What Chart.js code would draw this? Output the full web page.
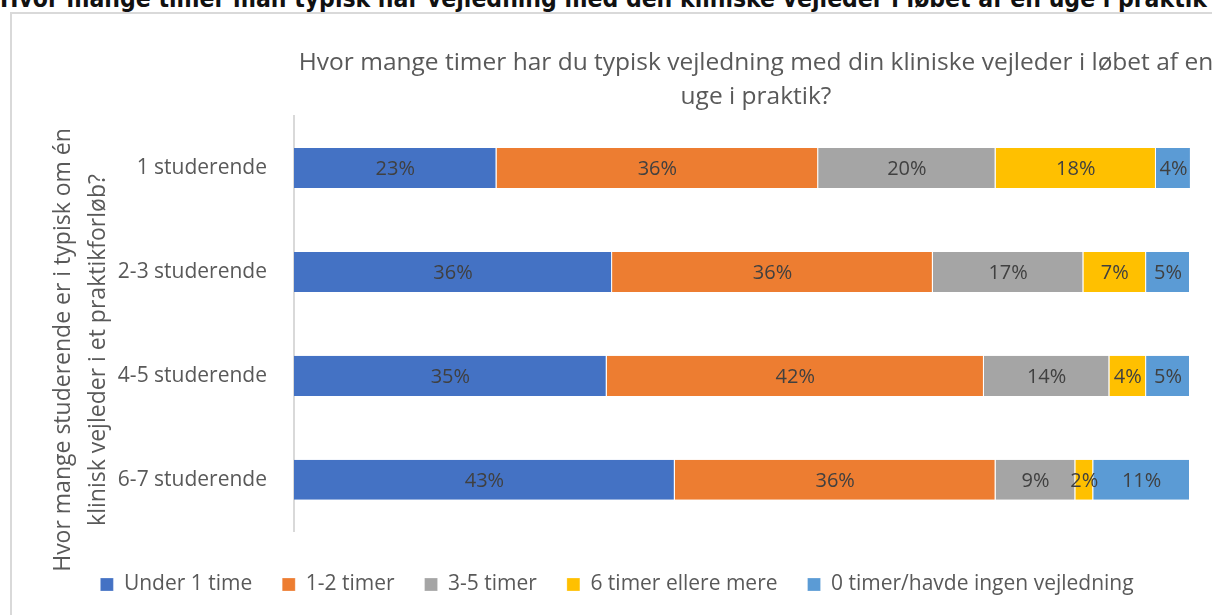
<!DOCTYPE html>
<html><head><meta charset="utf-8">
<script src="https://cdn.jsdelivr.net/npm/chart.js@4.4.1/dist/chart.umd.min.js"></script>
<style>
html,body{margin:0;padding:0;background:#fff;overflow:hidden;width:1212px;height:615px;}
#top{position:absolute;left:0px;top:-16px;font:900 24.5px 'Liberation Sans Narrow','DejaVu Sans Condensed',sans-serif;color:#111;white-space:nowrap;letter-spacing:0px;}
#frame{position:absolute;left:10px;top:12px;width:1300px;height:700px;border:2px solid #d9d9d9;box-sizing:border-box;}
#wrap{position:absolute;left:0;top:0;width:1212px;height:615px;}
</style></head><body>
<div id="top">Hvor mange timer man typisk har vejledning med den kliniske vejleder i løbet af en uge i praktik</div>
<div id="frame"></div>
<div id="wrap"><canvas id="c" width="1212" height="615"></canvas></div>
<script>
const categories = ["1 studerende", "2-3 studerende", "4-5 studerende", "6-7 studerende"];
const seriesNames = ["Under 1 time", "1-2 timer", "3-5 timer", "6 timer ellere mere", "0 timer/havde ingen vejledning"];
const under1 = [22.6, 35.5, 34.9, 42.5];
const t1to2 = [35.9, 35.8, 42.1, 35.8];
const t3to5 = [19.8, 16.8, 14.0, 8.9];
const t6plus = [17.9, 7.0, 4.1, 2.0];
const t0 = [3.9, 4.9, 4.9, 10.8];
const labelsUnder1 = ["23%", "36%", "35%", "43%"];
const labels1to2 = ["36%", "36%", "42%", "36%"];
const labels3to5 = ["20%", "17%", "14%", "9%"];
const labels6plus = ["18%", "7%", "4%", "2%"];
const labels0 = ["4%", "5%", "5%", "11%"];
const chartTitle = ["Hvor mange timer har du typisk vejledning med din kliniske vejleder i løbet af en", "uge i praktik?"];
const axisTitle = ["Hvor mange studerende er i typisk om én", "klinisk vejleder i et praktikforløb?"];
const colors = ["#4472C4", "#ED7D31", "#A5A5A5", "#FFC000", "#5B9BD5"];

const FONT = "'Open Sans', sans-serif";
const seriesData = [under1, t1to2, t3to5, t6plus, t0];
const seriesLabels = [labelsUnder1, labels1to2, labels3to5, labels6plus, labels0];

const customDraw = {
  id: 'customDraw',
  afterDatasetsDraw(chart) {
    const ctx = chart.ctx;
    ctx.save();
    ctx.fillStyle = '#404040';
    ctx.font = "20px " + FONT;
    ctx.textAlign = 'center';
    ctx.textBaseline = 'middle';
    chart.data.datasets.forEach((ds, i) => {
      const meta = chart.getDatasetMeta(i);
      meta.data.forEach((bar, j) => {
        const cx = (bar.x + bar.base) / 2;
        ctx.fillText(seriesLabels[i][j], cx, bar.y + 1);
      });
    });
    ctx.restore();
  },
  afterDraw(chart) {
    const ctx = chart.ctx;
    ctx.save();
    ctx.fillStyle = '#595959';
    ctx.font = "24.5px " + FONT;
    ctx.textAlign = 'center';
    ctx.textBaseline = 'middle';
    ctx.fillText(chartTitle[0], 756, 63);
    ctx.fillText(chartTitle[1], 756, 97);
    ctx.font = "23px " + FONT;
    ctx.translate(0, 350);
    ctx.rotate(-Math.PI / 2);
    ctx.fillText(axisTitle[0], 0, 63);
    ctx.fillText(axisTitle[1], 0, 98);
    ctx.restore();
  }
};

new Chart(document.getElementById('c'), {
  type: 'bar',
  data: {
    labels: categories,
    datasets: seriesNames.map((n, i) => ({
      label: n,
      data: seriesData[i],
      backgroundColor: colors[i],
      borderColor: '#ffffff',
      borderWidth: {left: 0, right: 1, top: 0, bottom: 0},
      borderSkipped: false,
      categoryPercentage: 1,
      barPercentage: 0.385
    }))
  },
  options: {
    indexAxis: 'y',
    responsive: false,
    animation: false,
    devicePixelRatio: 1,
    layout: { padding: { top: 116, right: 22, bottom: 10, left: 44 } },
    scales: {
      x: { stacked: true, min: 0, max: 100, display: false },
      y: {
        stacked: true,
        afterFit(scale) { scale.width = 250; },
        grid: { display: false, drawTicks: false },
        border: { display: true, color: '#d9d9d9', width: 2 },
        ticks: { color: '#595959', font: { family: FONT, size: 21 }, padding: 27 }
      }
    },
    plugins: {
      title: { display: false },
      tooltip: { enabled: false },
      legend: {
        display: true,
        position: 'bottom',
        title: { display: true, text: ' ', font: { size: 1 }, padding: { top: 0, bottom: 11 } },
        labels: {
          color: '#595959',
          font: { family: FONT, size: 21 },
          boxWidth: 13,
          boxHeight: 13,
          padding: 30
        }
      }
    }
  },
  plugins: [customDraw]
});
</script>
</body></html>
